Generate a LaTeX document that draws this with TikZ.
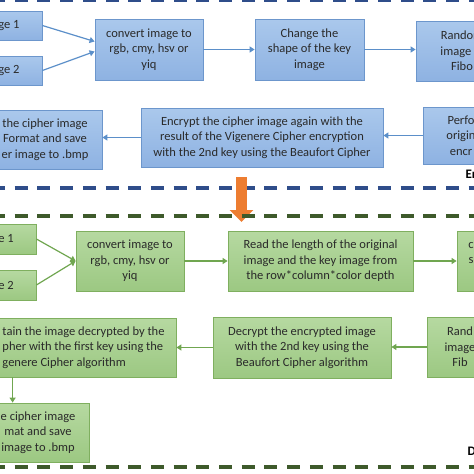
\documentclass[tikz,border=0pt]{standalone}
\usepackage{fontspec}
\setmainfont{Carlito}
\usetikzlibrary{arrows.meta,positioning}

\definecolor{bluetop}{HTML}{AAC8EC}
\definecolor{bluebot}{HTML}{8EB2E2}
\definecolor{blueline}{HTML}{6C96CC}
\definecolor{arrowblue}{HTML}{5B8FC9}
\definecolor{greentop}{HTML}{B6D9A1}
\definecolor{greenbot}{HTML}{9CC882}
\definecolor{greenline}{HTML}{7FAF5F}
\definecolor{arrowgreen}{HTML}{70A650}
\definecolor{dashblue}{HTML}{2F4D8A}
\definecolor{dashgreen}{HTML}{3E5A2B}
\definecolor{arroworange}{HTML}{ED7D31}
\definecolor{boxtext}{HTML}{2A2A2A}

\begin{document}
\begin{tikzpicture}[x=1pt, y=-1pt,
    box/.style={rectangle, draw, line width=0.8pt, align=center, inner sep=2pt, text=boxtext, font=\fontsize{12.5}{15.5}\selectfont},
    encbox/.style={box, draw=blueline, top color=bluetop, bottom color=bluebot},
    decbox/.style={box, draw=greenline, top color=greentop, bottom color=greenbot},
    encarrow/.style={-{Triangle[length=5pt,width=6pt]}, line width=1.2pt, arrowblue},
    decarrow/.style={-{Triangle[length=5pt,width=6pt]}, line width=1.2pt, arrowgreen},
    divider/.style={line width=3.5pt, dash pattern=on 13pt off 9.7pt},
    partlabel/.style={anchor=west, font=\bfseries\fontsize{13}{15}\selectfont}]
    \useasboundingbox (0,0) rectangle (474,474);
    \clip (0,0) rectangle (474,474);

    % Encryption part
    \draw[divider, dashblue] (-8,0.5) -- (480,0.5);
    \node[encbox, minimum width=66pt, minimum height=29pt] (img1) at (9,25.5) {ge 1};
    \node[encbox, minimum width=66pt, minimum height=29pt] (img2) at (9,70.5) {ge 2};
    \node[encbox, minimum width=108pt, minimum height=61pt] (conv) at (149,49.5) {convert image to\\rgb, cmy, hsv or\\yiq};
    \node[encbox, minimum width=109pt, minimum height=61pt] (shape) at (309.5,49.5) {Change the\\shape of the key\\image};
    \node[encbox, minimum width=92pt, minimum height=60pt] (rand) at (462,51) {Random\\image pi\\Fibo};
    \node[encbox, minimum width=114pt, minimum height=59pt] (save) at (45,139.5) {the cipher image\\Format and save\\er image to .bmp};
    \node[encbox, minimum width=242pt, minimum height=59pt] (enc) at (262,137.5) {Encrypt the cipher image again with the\\result of the Vigenere Cipher encryption\\with the 2nd key using the Beaufort Cipher};
    \node[encbox, minimum width=76pt, minimum height=57pt] (perf) at (461,135.5) {Perfo\\origin\\encr};
    \node[partlabel] (enclabel) at (462,174) {En};

    \draw[encarrow] (img1.east) -- ([yshift=8pt]conv.west);
    \draw[encarrow] (img2.east) -- ([yshift=-2pt]conv.west);
    \draw[encarrow] (conv) -- (shape);
    \draw[encarrow] (shape.east) -- (shape.east -| rand.west);
    \draw[encarrow] (perf.west) -- (perf.west -| enc.east);
    \draw[encarrow] (enc.west) -- (enc.west -| save.east);
    \draw[divider, dashblue] (-8,188) -- (480,188);

    % Orange arrow between the parts
    \coordinate (arrtop) at (241.5,177);
    \coordinate (arrtip) at (241.5,222);
    \draw[line width=11pt, arroworange, -{Triangle[length=12pt,width=23pt]}] (arrtop) -- (arrtip);

    % Decryption part
    \draw[divider, dashgreen] (-8,216) -- (480,216);
    \node[decbox, minimum width=60pt, minimum height=30pt] (gimg1) at (6,239) {e 1};
    \node[decbox, minimum width=60pt, minimum height=30pt] (gimg2) at (6,285) {e 2};
    \node[decbox, minimum width=108pt, minimum height=60pt] (gconv) at (130,261) {convert image to\\rgb, cmy, hsv or\\yiq};
    \node[decbox, minimum width=185pt, minimum height=60pt] (read) at (320.5,261) {Read the length of the original\\image and the key image from\\the row*column*color depth};
    \node[decbox, minimum width=28pt, minimum height=60pt] (gnext) at (471,261) {c\\s\\\phantom{s}};
    \node[decbox, minimum width=185pt, minimum height=59pt, align=left] (obtain) at (83.5,347.5) {tain the image decrypted by the\\pher with the first key using the\\genere Cipher algorithm};
    \node[decbox, minimum width=178pt, minimum height=61pt] (decrypt) at (302,347.5) {Decrypt the encrypted image\\with the 2nd key using the\\Beaufort Cipher algorithm};
    \node[decbox, minimum width=66pt, minimum height=60pt] (grand) at (460,347) {Rand\\image\\Fib};
    \node[decbox, minimum width=102pt, minimum height=59pt] (gsave) at (38,432.5) {e cipher image\\mat and save\\image to .bmp};
    \node[partlabel] (declabel) at (464,451) {D};

    \draw[decarrow] (gimg1.east) -- (gconv.west);
    \draw[decarrow] (gimg2.east) -- (gconv.west);
    \draw[decarrow] (gconv) -- (read);
    \draw[decarrow] (read) -- (gnext.west |- read.east);
    \draw[decarrow] (grand.west) -- (grand.west -| decrypt.east);
    \draw[decarrow] (decrypt.west) -- (decrypt.west -| obtain.east);
    \draw[decarrow] ([xshift=22pt]obtain.south west) coordinate (drop) -- (drop |- gsave.north);
    \draw[divider, dashgreen] (-8,467) -- (480,467);
\end{tikzpicture}
\end{document}
